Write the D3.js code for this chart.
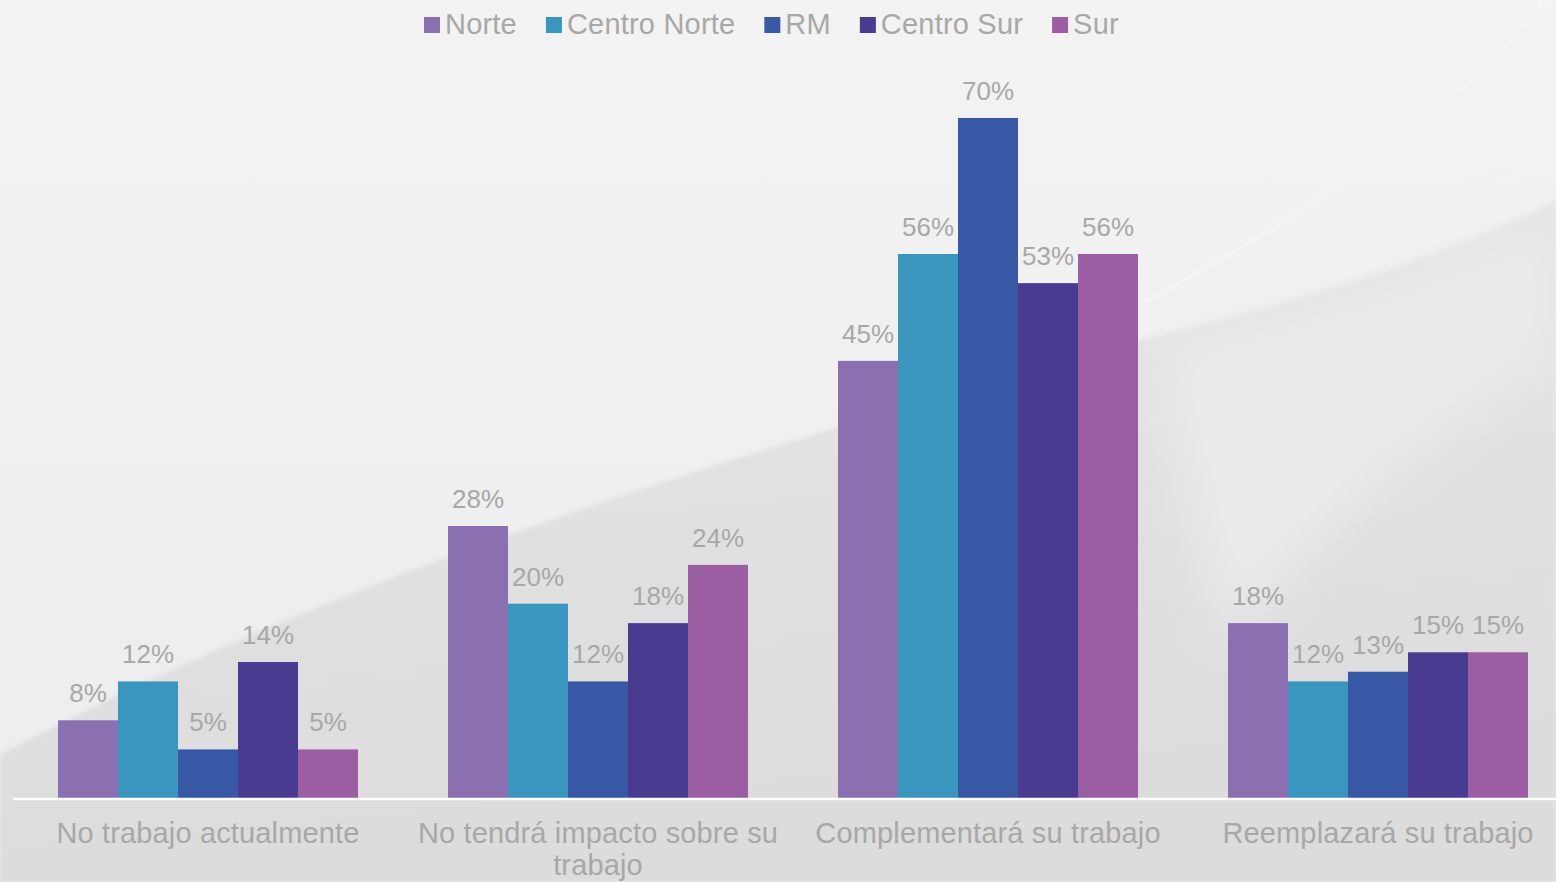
<!DOCTYPE html>
<html><head><meta charset="utf-8">
<script src="https://cdn.jsdelivr.net/npm/d3@7"></script>
<style>html,body{margin:0;padding:0;overflow:hidden;background:#f1f1f1}</style>
</head><body>
<svg id="c" width="1556" height="882"></svg>
<script>
const categories = ["No trabajo actualmente","No tendrá impacto sobre su trabajo","Complementará su trabajo","Reemplazará su trabajo"];
const seriesNames = ["Norte","Centro Norte","RM","Centro Sur","Sur"];
const norte = [8,28,45,18];
const centroNorte = [12,20,56,12];
const rm = [5,12,70,13];
const centroSur = [14,18,53,15];
const sur = [5,24,56,15];
const colors = ["#8a70b0","#3a96be","#3858a6","#493b90","#9c5ea2"];
const seriesValues = [norte, centroNorte, rm, centroSur, sur];

const W = 1556, H = 882;
const FONT = "Liberation Sans, Arial, sans-serif";
const TXT = "#a9a7a7";
const svg = d3.select("#c");
const defs = svg.append("defs");
const g1 = defs.append("linearGradient").attr("id","bg").attr("x1",0).attr("y1",0).attr("x2",0).attr("y2",1);
g1.append("stop").attr("offset","0%").attr("stop-color","#f3f3f3");
g1.append("stop").attr("offset","100%").attr("stop-color","#ececec");
const g2 = defs.append("linearGradient").attr("id","dk").attr("x1",0).attr("y1",0).attr("x2",0.2).attr("y2",1);
g2.append("stop").attr("offset","0%").attr("stop-color","#e6e6e6");
g2.append("stop").attr("offset","100%").attr("stop-color","#dcdcdc");
defs.append("filter").attr("id","blur").attr("x","-20%").attr("y","-20%").attr("width","140%").attr("height","140%")
  .append("feGaussianBlur").attr("stdDeviation", 2);
defs.append("filter").attr("id","blur2").attr("x","-20%").attr("y","-20%").attr("width","140%").attr("height","140%")
  .append("feGaussianBlur").attr("stdDeviation", 25);
svg.append("rect").attr("width",W).attr("height",H).attr("fill","url(#bg)");
svg.append("path").attr("d","M0,882 L0,755 C 250,620 560,510 840,427 C 1000,380 1100,350 1160,335 C 1350,290 1480,240 1556,200 L1556,882 Z")
  .attr("fill","url(#dk)").attr("filter","url(#blur)");
svg.append("path").attr("d","M1160,345 C 1350,300 1480,250 1556,215 L1556,360 C 1450,420 1320,520 1230,640 C 1200,560 1180,450 1160,345 Z")
  .attr("fill","#ebebeb").attr("filter","url(#blur2)");
svg.append("path").attr("d","M1120,315 C 1300,220 1450,120 1545,0").attr("fill","none").attr("stroke","#f7f7f7").attr("stroke-width",2.5).attr("opacity",0.7);

const baseY = 798;
const x0 = d3.scaleBand().domain(categories).range([13, 13 + 4*390]).paddingInner(90/390).paddingOuter(45/390);
const x1 = d3.scaleBand().domain(seriesNames).range([0, x0.bandwidth()]);
const y = d3.scaleLinear().domain([0, 70]).range([baseY, 118]);

const groups = svg.append("g").selectAll("g").data(categories).join("g")
  .attr("transform", d => `translate(${x0(d)},0)`);
groups.each(function(cat, ci){
  const g = d3.select(this);
  seriesNames.forEach((s, si) => {
    const v = seriesValues[si][ci];
    g.append("rect").attr("x", x1(s)).attr("width", x1.bandwidth())
      .attr("y", y(v)).attr("height", baseY - y(v)).attr("fill", colors[si]);
  });
  seriesNames.forEach((s, si) => {
    const v = seriesValues[si][ci];
    g.append("text").attr("x", x1(s) + x1.bandwidth()/2).attr("y", y(v) - 18)
      .attr("text-anchor","middle").attr("font-family",FONT)
      .attr("font-size", 26).attr("fill",TXT).text(v + "%");
  });
});

// axis
const xAxis = d3.axisBottom(x0).tickSize(0).tickPadding(0);
const ax = svg.append("g").attr("transform", `translate(0,${baseY})`).call(xAxis);
ax.select(".domain").attr("stroke","#ffffff").attr("stroke-width",2.5).attr("d", `M13,1H${W}`);
ax.selectAll(".tick text").attr("font-family",FONT)
  .attr("font-size", 29).attr("letter-spacing", 0.15).attr("fill",TXT).attr("dy", 0).attr("y", 45)
  .each(function(d){
    const t = d3.select(this);
    const words = d.split(" ");
    t.text(null);
    let line = [], n = 0;
    let ts = t.append("tspan").attr("x",0).attr("y",45);
    for (const w of words) {
      line.push(w);
      ts.text(line.join(" "));
      if (ts.node().getComputedTextLength() > x0.step() - 10 && line.length > 1) {
        line.pop(); ts.text(line.join(" "));
        n++;
        line = [w];
        ts = t.append("tspan").attr("x",0).attr("y",45 + 32*n).text(w);
      }
    }
  });

// legend
const leg = svg.append("g");
let lx = 424;
seriesNames.forEach((s, i) => {
  leg.append("rect").attr("x", lx).attr("y", 17).attr("width", 16).attr("height", 16).attr("fill", colors[i]);
  const t = leg.append("text").attr("x", lx + 21).attr("y", 34)
    .attr("font-family",FONT).attr("font-size", 29).attr("letter-spacing", 0.2)
    .attr("fill",TXT).text(s);
  lx += 21 + t.node().getComputedTextLength() + 29;
});
</script>
</body></html>
